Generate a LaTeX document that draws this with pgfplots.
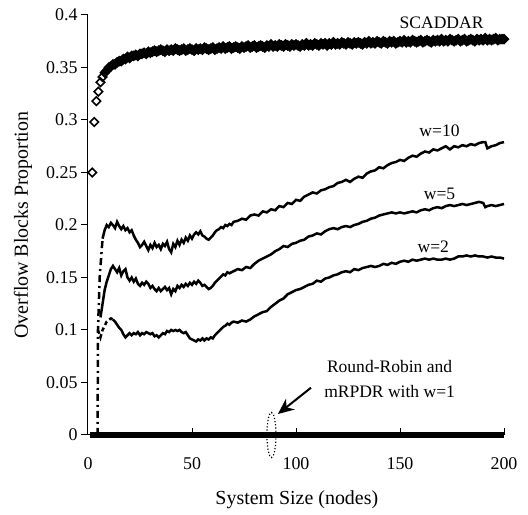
\documentclass[border=0pt]{standalone}
\usepackage{pgfplots}
\pgfplotsset{compat=1.18}
\usepackage{fontspec}
\setmainfont{Liberation Serif}
\usetikzlibrary{arrows.meta}
\begin{document}
\begin{tikzpicture}
\begin{axis}[
  name=ax,
  scale only axis, width=416bp, height=420bp,
  xmin=0, xmax=200, ymin=0, ymax=0.4,
  axis x line=bottom, axis y line=left,
  axis line style={-, line width=1bp},
  axis on top,
  clip=false,
  xtick={0,50,100,150,200},
  ytick={0,0.05,0.1,0.15,0.2,0.25,0.3,0.35,0.4},
  tick align=outside,
  major tick length=7bp,
  tick style={line width=1bp, black},
  major x tick style={yshift=7bp},
  /pgf/number format/assume math mode=true,
  /pgf/number format/fixed, /pgf/number format/precision=2,
  every tick label/.append style={font=\fontsize{18}{20}\selectfont},
  xticklabel style={yshift=-12bp},
  xlabel={System Size (nodes)},
  ylabel={Overflow Blocks Proportion},
  every axis label/.append style={font=\fontsize{20}{22}\selectfont},
  xlabel style={at={(axis description cs:0.502,-0.155)}, anchor=center},
  ylabel style={at={(axis description cs:-0.156,0.5)}, anchor=center},
]
% Round-Robin and mRPDR w=1 (zero line)
\addplot[black, line width=6.5bp] coordinates {(1,0) (200,0)};
% early dashed rises
\addplot[black, line width=2.5bp, dash pattern=on 7bp off 4bp on 2bp off 4bp] coordinates {(4.6,0) (4.8,0.1) (5.6,0.15) (7,0.187)};
\addplot[black, line width=2.5bp, dash pattern=on 4bp off 3bp] coordinates {(4.8,0.1) (6,0.093) (7,0.1) (9,0.108) (11,0.111) (12,0.11)};
% w=10
\addplot[black, line width=2.5bp] coordinates {
(7,0.187)(8,0.195)(9,0.2)(10,0.198)(11,0.202)(12,0.2)(13,0.197)(14,0.203)(15,0.199)(16,0.196)(17,0.199)(18,0.195)(19,0.197)(20,0.193)(21,0.195)(22,0.19)(23,0.186)(24,0.183)(25,0.179)(26,0.181)(27,0.184)(28,0.18)(29,0.176)(30,0.181)(31,0.178)(32,0.183)(33,0.179)(34,0.181)(35,0.177)(36,0.182)(37,0.18)(38,0.184)(39,0.177)(40,0.174)(41,0.182)(42,0.179)(43,0.185)(44,0.181)(45,0.186)(46,0.183)(47,0.188)(48,0.185)(49,0.19)(50,0.187)(51,0.191)(52,0.193)(53,0.191)(54,0.194)(55,0.19)(56,0.189)(57,0.187)(58,0.186)(59,0.188)(60,0.19)(61,0.193)(62,0.195)(63,0.196)(64,0.198)(65,0.197)(66,0.2)(67,0.199)(68,0.201)(69,0.2)(70,0.203)(72,0.204)(74,0.206)(76,0.205)(78,0.209)(80,0.21)(82,0.209)(84,0.213)(86,0.212)(88,0.215)(90,0.214)(92,0.218)(94,0.217)(96,0.221)(98,0.22)(100,0.224)(102,0.223)(104,0.227)(106,0.229)(108,0.231)(110,0.23)(112,0.233)(114,0.234)(116,0.236)(118,0.237)(120,0.24)(122,0.241)(124,0.243)(126,0.241)(128,0.244)(130,0.246)(132,0.245)(134,0.249)(136,0.251)(138,0.252)(140,0.255)(142,0.254)(144,0.257)(146,0.259)(148,0.26)(150,0.262)(152,0.261)(154,0.264)(156,0.266)(158,0.265)(160,0.268)(162,0.27)(164,0.269)(166,0.272)(168,0.271)(170,0.273)(172,0.275)(174,0.272)(176,0.275)(178,0.274)(180,0.276)(182,0.275)(184,0.277)(186,0.276)(188,0.278)(190,0.279)(191,0.279)(192,0.273)(194,0.275)(196,0.276)(198,0.278)(200,0.279)};
% w=5
\addplot[black, line width=2.5bp] coordinates {
(6,0.112)(7,0.125)(8,0.138)(9,0.146)(10,0.152)(11,0.158)(12,0.161)(13,0.158)(14,0.155)(15,0.159)(16,0.152)(17,0.156)(18,0.158)(19,0.15)(20,0.147)(21,0.15)(22,0.146)(23,0.149)(24,0.144)(25,0.142)(26,0.145)(27,0.143)(28,0.146)(29,0.144)(30,0.14)(31,0.142)(32,0.139)(33,0.137)(34,0.14)(35,0.137)(36,0.139)(37,0.141)(38,0.138)(39,0.14)(40,0.134)(41,0.139)(42,0.137)(43,0.142)(44,0.14)(45,0.143)(46,0.141)(47,0.144)(48,0.142)(49,0.145)(50,0.143)(51,0.146)(52,0.144)(53,0.147)(54,0.145)(55,0.142)(56,0.143)(57,0.141)(58,0.139)(59,0.14)(60,0.142)(61,0.145)(62,0.147)(63,0.149)(64,0.151)(65,0.153)(66,0.152)(67,0.155)(68,0.154)(70,0.156)(72,0.158)(74,0.157)(76,0.16)(78,0.159)(80,0.163)(82,0.166)(84,0.168)(86,0.17)(88,0.172)(90,0.175)(92,0.177)(94,0.18)(96,0.179)(98,0.182)(100,0.183)(102,0.185)(104,0.186)(106,0.189)(108,0.19)(110,0.192)(112,0.191)(114,0.194)(116,0.196)(118,0.197)(120,0.196)(122,0.198)(124,0.199)(126,0.198)(128,0.2)(130,0.201)(132,0.203)(134,0.204)(136,0.206)(138,0.207)(140,0.209)(142,0.21)(144,0.211)(146,0.212)(148,0.211)(150,0.212)(152,0.211)(154,0.212)(156,0.213)(158,0.212)(160,0.214)(162,0.215)(164,0.214)(166,0.216)(168,0.217)(170,0.216)(172,0.218)(174,0.219)(176,0.218)(178,0.219)(180,0.22)(182,0.219)(184,0.22)(186,0.221)(188,0.222)(190,0.221)(191,0.217)(192,0.218)(194,0.219)(196,0.218)(198,0.219)(200,0.22)};
% w=2
\addplot[black, line width=2.5bp] coordinates {
(12,0.11)(13,0.108)(14,0.105)(15,0.102)(16,0.1)(17,0.096)(18,0.093)(19,0.095)(20,0.097)(21,0.095)(22,0.097)(23,0.096)(24,0.098)(25,0.095)(26,0.097)(27,0.096)(28,0.098)(29,0.097)(30,0.096)(31,0.097)(32,0.094)(33,0.095)(34,0.093)(35,0.095)(36,0.097)(37,0.096)(38,0.099)(39,0.098)(40,0.1)(41,0.099)(42,0.1)(43,0.099)(44,0.1)(45,0.098)(46,0.097)(47,0.098)(48,0.095)(49,0.092)(50,0.091)(51,0.09)(52,0.089)(53,0.091)(54,0.09)(55,0.092)(56,0.09)(57,0.092)(58,0.091)(59,0.093)(60,0.092)(61,0.095)(62,0.097)(63,0.099)(64,0.101)(65,0.103)(66,0.104)(67,0.106)(68,0.105)(69,0.107)(70,0.108)(72,0.107)(74,0.109)(76,0.108)(78,0.11)(80,0.113)(82,0.115)(84,0.117)(86,0.118)(88,0.122)(90,0.125)(92,0.128)(94,0.13)(96,0.134)(98,0.136)(100,0.138)(102,0.139)(104,0.141)(106,0.143)(108,0.144)(110,0.147)(112,0.146)(114,0.149)(116,0.15)(118,0.152)(120,0.153)(122,0.155)(124,0.156)(126,0.155)(128,0.158)(130,0.157)(132,0.159)(134,0.16)(136,0.161)(138,0.16)(140,0.161)(142,0.163)(144,0.162)(146,0.164)(148,0.163)(150,0.165)(152,0.166)(154,0.165)(156,0.167)(158,0.166)(160,0.167)(162,0.168)(164,0.167)(166,0.168)(168,0.167)(170,0.167)(172,0.168)(174,0.167)(176,0.168)(178,0.17)(180,0.17)(182,0.171)(184,0.17)(186,0.171)(188,0.17)(190,0.17)(192,0.169)(194,0.17)(196,0.169)(198,0.169)(200,0.168)};
% SCADDAR (dense part, overlapping markers)
\addplot[only marks, mark=square*, mark size=3.2bp, mark options={rotate=45, draw=black, fill=black, line width=1.4bp}] coordinates {
(9,0.347)(10,0.350)
(11,0.351)(12,0.353)(13,0.353)(14,0.355)(15,0.356)(16,0.356)(17,0.358)(18,0.358)(19,0.360)(20,0.359)
(21,0.361)(22,0.361)(23,0.362)(24,0.361)(25,0.363)(26,0.363)(27,0.364)(28,0.363)(29,0.365)(30,0.364)
(31,0.365)(32,0.366)(33,0.365)(34,0.366)(35,0.367)(36,0.366)(37,0.365)(38,0.367)(39,0.366)(40,0.367)
(41,0.366)(42,0.368)(43,0.367)(44,0.366)(45,0.367)(46,0.368)(47,0.366)(48,0.367)(49,0.368)(50,0.367)
(51,0.366)(52,0.368)(53,0.367)(54,0.368)(55,0.367)(56,0.369)(57,0.368)(58,0.367)(59,0.368)(60,0.369)
(61,0.367)(62,0.368)(63,0.369)(64,0.368)(65,0.370)(66,0.368)(67,0.369)(68,0.370)(69,0.368)(70,0.369)
(71,0.370)(72,0.369)(73,0.368)(74,0.370)(75,0.369)(76,0.370)(77,0.371)(78,0.369)(79,0.370)(80,0.371)
(81,0.369)(82,0.370)(83,0.371)(84,0.370)(85,0.369)(86,0.371)(87,0.370)(88,0.372)(89,0.370)(90,0.371)
(91,0.370)(92,0.372)(93,0.371)(94,0.370)(95,0.372)(96,0.371)(97,0.370)(98,0.372)(99,0.371)(100,0.372)
(101,0.371)(102,0.370)(103,0.372)(104,0.371)(105,0.373)(106,0.371)(107,0.372)(108,0.371)(109,0.373)(110,0.372)
(111,0.371)(112,0.373)(113,0.372)(114,0.373)(115,0.371)(116,0.373)(117,0.372)(118,0.374)(119,0.372)(120,0.373)
(121,0.372)(122,0.374)(123,0.373)(124,0.372)(125,0.374)(126,0.373)(127,0.372)(128,0.374)(129,0.373)(130,0.374)
(131,0.373)(132,0.372)(133,0.374)(134,0.373)(135,0.375)(136,0.373)(137,0.374)(138,0.373)(139,0.375)(140,0.374)
(141,0.373)(142,0.375)(143,0.374)(144,0.373)(145,0.375)(146,0.374)(147,0.375)(148,0.373)(149,0.374)(150,0.375)
(151,0.374)(152,0.376)(153,0.374)(154,0.375)(155,0.374)(156,0.376)(157,0.375)(158,0.374)(159,0.375)(160,0.376)
(161,0.374)(162,0.375)(163,0.376)(164,0.375)(165,0.374)(166,0.376)(167,0.375)(168,0.376)(169,0.375)(170,0.377)
(171,0.375)(172,0.376)(173,0.375)(174,0.377)(175,0.376)(176,0.375)(177,0.376)(178,0.377)(179,0.375)(180,0.376)
(181,0.377)(182,0.375)(183,0.376)(184,0.377)(185,0.376)(186,0.375)(187,0.377)(188,0.376)(189,0.377)(190,0.376)
(191,0.378)(192,0.376)(193,0.377)(194,0.376)(195,0.377)(196,0.378)(197,0.376)(198,0.377)(199,0.377)(200,0.377)};
% SCADDAR (first, separate open markers)
\addplot[only marks, mark=square, mark size=3bp, mark options={rotate=45, draw=black, fill=white, line width=1.6bp}] coordinates {
(2,0.250)(3,0.298)(4,0.318)(5,0.327)(6,0.336)(7,0.341)(8,0.345)};
% annotations
\node[font=\fontsize{17.6}{20}\selectfont] at (axis cs:170,0.393) {SCADDAR};
\node[font=\fontsize{17.6}{20}\selectfont] at (axis cs:169,0.290) {w=10};
\node[font=\fontsize{17.6}{20}\selectfont] at (axis cs:169,0.230) {w=5};
\node[font=\fontsize{17.6}{20}\selectfont] at (axis cs:166,0.179) {w=2};
\node[font=\fontsize{17.6}{25}\selectfont, align=center] at (axis cs:145,0.053) {Round-Robin and\\mRPDR with w=1};
\draw[line width=2bp, -{Stealth[length=16bp, width=14bp]}] (axis cs:107.2,0.045) -- (axis cs:91.3,0.020);
\draw[line width=1.2bp, dotted] (axis cs:88.2,0) ellipse [x radius=4.5bp, y radius=22.5bp];
\end{axis}
\path ([shift={(-88bp,-80bp)}]ax.south west) rectangle ([shift={(24bp,15bp)}]ax.north east);
\end{tikzpicture}
\end{document}
